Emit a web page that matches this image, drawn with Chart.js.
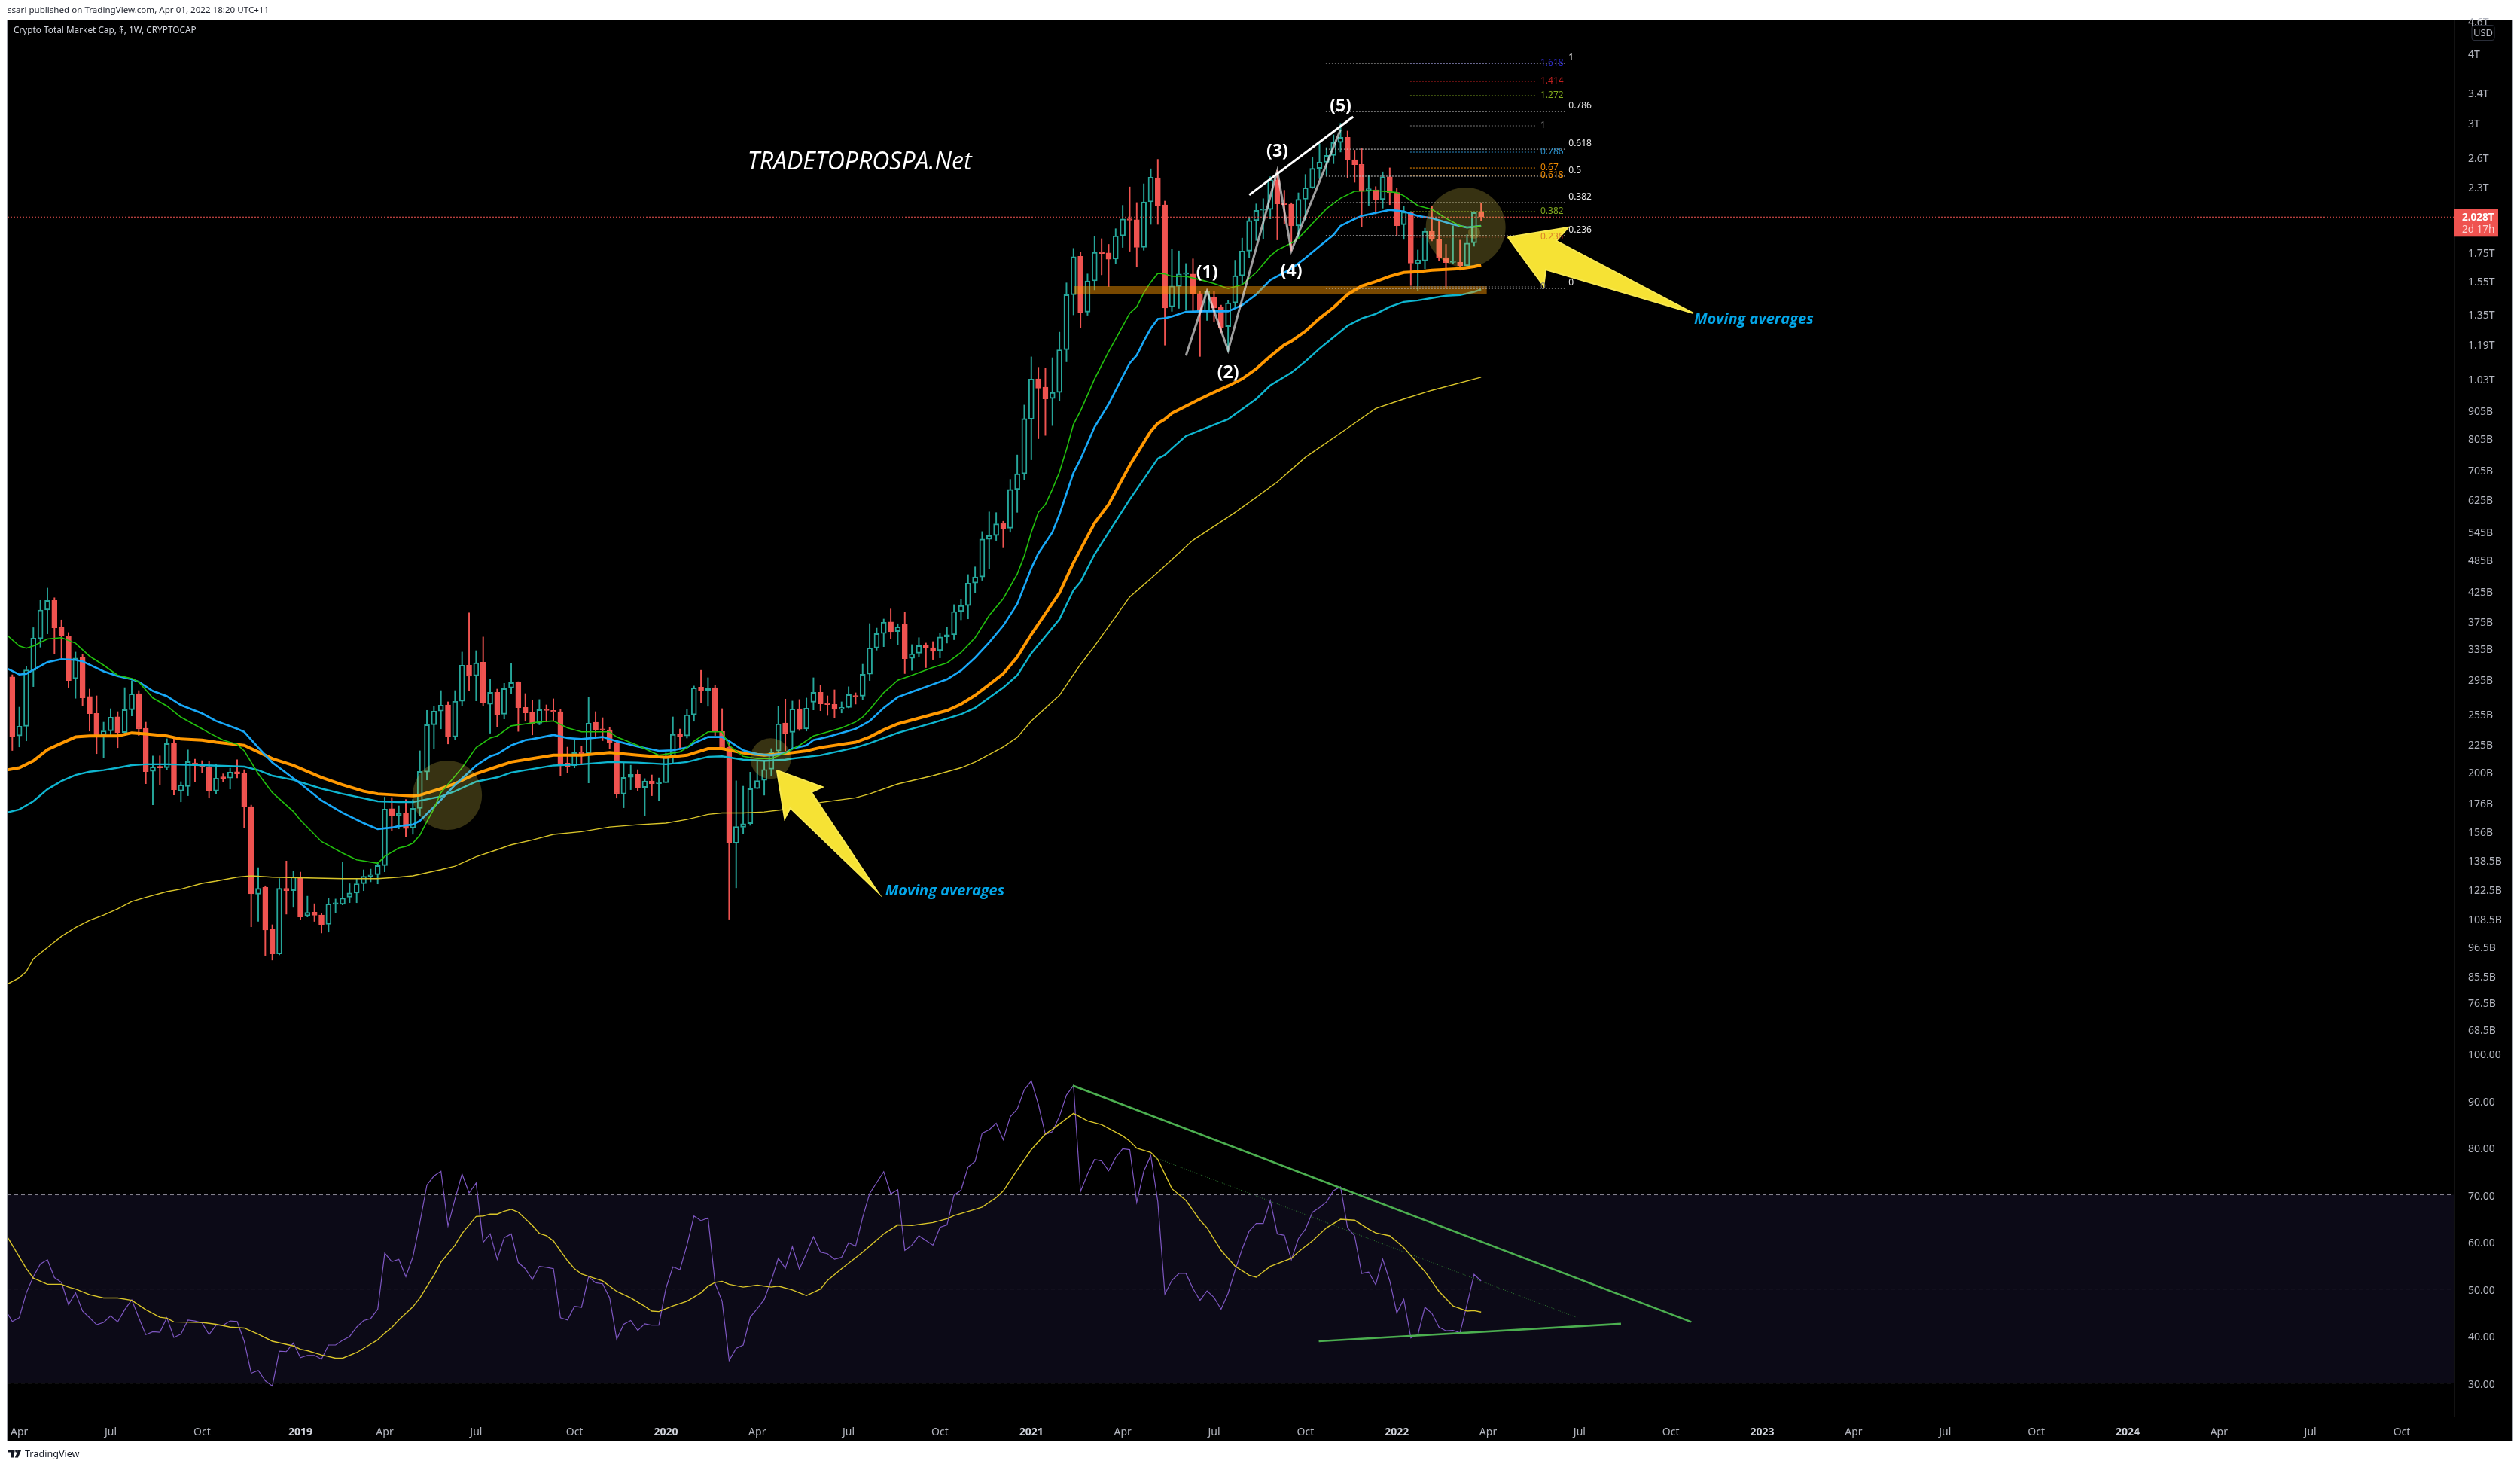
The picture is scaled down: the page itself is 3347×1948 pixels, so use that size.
<!DOCTYPE html>
<html><head><meta charset="utf-8">
<style>html,body{margin:0;padding:0;background:#fff}canvas{display:block}</style>
<script src="https://cdn.jsdelivr.net/npm/chart.js@4"></script>
</head><body><canvas id="c" width="3347" height="1948"></canvas>
<script>
// ---- Weekly candles, market cap in billions USD (index = week number) ----
const opens=[298,233,242.6,306.3,349.5,394,410,366.3,353.8,295.8,323.4,274.6,256,234,238,252.3,236.3,260,278,240.6,201,204.8,204.1,226,185.2,188.7,208,206.8,205,185.2,195.6,195.4,200.6,199.3,173.5,120.4,123.9,103.9,93.9,123.4,122.2,129.5,110,111.7,110.4,106.2,115.4,115.4,118.9,121,125.8,129.7,130.7,135.7,172,167,168.7,158.8,172.3,200.4,244.1,258.4,265.2,232.2,269.2,313,299.4,316.9,266,279.5,255,284.8,291.1,262.4,256.9,245.7,260,259.2,257.8,208,205.7,217.6,216.7,246.7,239.8,239,226.7,182.8,196,198.5,187.9,193,190.9,191.7,213.7,234.5,233,254.4,285.7,281.3,285,237.3,222.4,149,159.2,161.6,187,193.6,202.8,218.8,245.9,236.5,261.1,240,268.3,279.5,267.5,265.8,260.3,262.4,275.4,275.1,301.4,336.4,357.1,374.8,360,371.2,322,329,340,336.7,332.5,352.1,355.4,391.5,401.3,440.8,452.1,529,537.4,566.7,554.2,651.3,695.5,873,1033,998,952,976,1166,1467,1722,1365,1554,1752,1747,1703,1875,2012,2006,1787,2161,2389,2134,1395,1518,1598,1600,1474,1367,1449,1391,1285,1418,1588,1760,1999,2086,2093,2368,2146,2141,1955,2185,2292,2484,2550,2623,2768,2829,2577,2527,2268,2272,2182,2399,2247,1965,2069,1670,1690,1911,1851,1712,1679,1679,1656,1822,2069];
const highs=[300.7,262.7,311.2,366,410,431.6,414.5,377.9,358.6,330.5,328,283.3,275.4,246.7,261,257.8,285,293.5,281.5,246.7,214.4,214.4,230.3,230.5,192.5,219.8,211.5,210.2,209.6,206.9,198.9,203.7,210.9,202.4,174.6,134.5,124.7,106,128.6,138.3,132.4,132,119.4,115.7,111.1,118.2,118,137.5,125.8,128.4,133.3,133.7,137.5,180.5,180.2,174.1,178.7,178.7,219,259.2,263.5,281.5,268.6,281.5,330.5,389.3,332.5,352,295.1,283.3,290.2,315.2,292.2,278,270.3,271.2,265.2,272,260.3,222.4,230,223.1,273.7,257.8,251.4,241.3,228.1,208.1,206.2,202.4,195,198,195.5,216.9,252.2,239.8,260,287,306.3,297,287.5,261.1,228.6,193.2,188.9,200.3,210.2,209.7,221,263.9,271.7,269.5,271.2,272.9,297,287.8,275.4,282.4,268.6,286.1,278.9,314.2,372.3,365.3,379.4,395.6,372,391,341,351,343.2,345.3,357.5,366.3,402.8,411.8,456.7,471.6,546.3,593,591.3,570.3,679,752,926,1132,1084,1081,1128,1255,1541,1780,1752,1600,1872,1853,1810,1932,2130,2300,2155,2330,2480,2580,2168,1772,1761,1671,1704,1489,1492,1489,1405,1435,1694,1858,2029,2143,2190,2400,2464,2268,2153,2244,2422,2600,2753,2710,2858,2998,2904,2680,2698,2410,2303,2449,2490,2287,2120,2071,1768,1935,2120,1993,1810,1955,1842,1884,2071,2153];
const lows=[219.3,222.6,228.3,286.3,337.4,356.7,328.7,322.4,285.4,272.6,264.6,237.8,216.4,213,233.4,221.9,235,253.3,233.4,190.9,174.8,190.3,202.6,182.1,177,181.6,192.1,199.5,179.8,182.7,192.1,186.7,195.6,159.1,105.1,107.5,93.3,91.5,93.5,110.8,114,108.5,109.5,107.5,102.4,102.8,111.5,115.1,116.2,116.2,122.2,126.8,125.7,132.2,157.1,158.1,153.2,154.6,167.3,193.9,221.2,240,225.4,229.1,264.6,281.7,269.7,264,235.7,242.3,250.1,278.3,237.5,247.7,234.1,244.1,246.9,248.5,197.6,199.5,203.9,206.5,191.5,232.7,228.5,220.9,179.8,172.7,186.2,185.6,166.8,181.6,177.6,191.7,207.9,220.2,231,247.7,268,263.7,233.4,220.3,108.5,123.7,155.1,160.5,187,182,197.4,214.7,219,221.5,238.3,237.8,259.7,258.9,253.8,251,256.4,261.9,266.1,270.6,293.6,333.2,338.1,349.2,340.6,302.2,306.3,323.9,309.8,320.6,322.6,343.2,348,378.2,379.7,423,445.9,468,526.6,510.7,544.8,592,679,737,805,816,850,942,1109,1349,1279,1347,1497,1594,1518,1671,1787,1759,1646,1766,1967,1967,1189,1369,1386,1375,1369,1134,1318,1310,1254,1159,1391,1537,1710,1840,1855,2013,1844,1970,1762,1855,2004,2287,2380,2412,2534,2660,2386,2345,1945,2130,2055,2105,2136,1879,1848,1524,1489,1636,1836,1690,1506,1668,1625,1653,1796,1996];
const closes=[232.7,242.6,306.9,350.5,394,410,365.8,353.4,293.6,322.4,273,255.6,233.4,238,252,236.3,260,277.7,240,200.7,204.8,203.9,225.7,186.2,189.9,209.3,206.9,204.5,185,195.4,195.2,200.4,198.9,173.2,120.6,123.4,103.7,93.9,123.4,122.2,129.4,109.5,111.6,110.3,106.1,115.6,115.7,118.5,121,125.8,129.8,130.5,135.7,171.8,166.8,168.5,158.4,172.3,201,244.1,258.4,264.9,232,269.2,313,299,316,267.2,279.5,254,283.8,291.1,262.1,256.4,244.6,260,259,257.3,207.8,205,217.4,216.2,245.6,239.3,238.5,226.2,183.2,196,198.5,187.9,193,190.9,191.3,213.3,234.5,232,254.4,284.8,281.6,284.4,237,221.9,149,159.7,161.6,187,193.4,202.6,217.8,245,235.5,260.8,239.8,261.6,279.5,266.4,265.5,260.3,262.4,276.9,274,301.4,336.4,357.1,374.4,359.7,367.3,321.5,328.1,339.6,336,331.5,352.1,355.4,391.5,401.3,440.8,452.1,529.4,537.4,564.4,553.6,651.3,695.5,875,1032,994,950,976,1166,1467,1719,1363,1554,1750,1742,1701,1875,2012,2001,1787,2161,2395,2128,1388,1521,1600,1604,1471,1365,1489,1388,1279,1418,1588,1760,1999,2086,2093,2368,2143,2136,1955,2185,2292,2484,2550,2623,2768,2829,2580,2523,2258,2277,2184,2396,2244,1957,2071,1673,1696,1911,1848,1710,1678,1684,1656,1819,2066,2028];

// ---- Moving averages: week, value ----
const maGreenWeeks=[-1,1,2,3,4,5,7,9,11,13,15,17,18,20,22,24,27,28,30,32,33,35,37,40,41,44,47,49,52,53,55,56,57,58,59,60,61,64,66,68,69,71,73,75,77,79,81,85,86,89,92,95,96,97,99,101,102,104,106,108,110,112,114,118,120,121,122,124,126,128,131,133,135,137,139,141,143,144,145,146,147,148,149,150,151,152,154,156,158,159,160,161,162,163,164,165,167,169,171,173,175,176,177,179,180,182,183,185,187,189,191,194,197,198,200,202,204,206,207,209];
const maGreenValues=[357,339,336,339,344,349,351,343,325,313,300,296,292,273,264,252,240,236,229,225,219,199,184,170,164,150,143,139,137,141,146,147,149,154,163,172,184,204,222,231,233,243,245,247,248,241,237,237,232,224,215,218,222,228,237,237,224,214,212,212,217,224,233,241,247,252,260,279,294,300,310,316,330,351,385,413,458,494,545,592,612,652,700,770,855,904,1033,1157,1287,1358,1395,1479,1546,1604,1600,1584,1584,1562,1537,1505,1530,1570,1610,1725,1767,1820,1855,1975,2100,2195,2258,2265,2247,2217,2128,2094,2018,1955,1942,1955];
const maBlueWeeks=[-1,1,2,3,5,7,9,10,13,15,17,18,20,22,24,27,29,32,33,35,37,41,44,47,50,52,54,55,57,58,61,63,66,68,69,71,73,74,77,79,81,84,86,89,92,94,96,97,99,101,102,104,106,108,110,111,113,114,116,118,120,121,122,124,126,128,131,133,135,137,139,141,143,145,146,148,149,150,151,152,154,156,158,159,160,161,162,163,164,165,167,169,171,173,175,177,179,182,184,186,188,189,191,192,194,196,198,200,202,205,207,209];
const maBlueValues=[310,301,302,307,317,321,320,318,305,299,295,292,281,275,265,256,248,240,237,222,208.6,191,178,169,162,158,159,160,161,163.5,178.5,190,206,214,216,224,229,230,234,231,230,232,228,223,219,219.5,222,226,232,232,228,219.5,216,215,217,221,224,229,232,236,240,244,248,262,274,280,289,295,306,323,344,369,404,469,499,545,587,640,698,739,845,930,1043,1103,1140,1209,1275,1326,1330,1340,1366,1369,1369,1369,1405,1469,1560,1635,1710,1796,1883,1955,2012,2038,2064,2090,2077,2038,2018,1967,1942,1955];
const maOrangeWeeks=[-1,1,3,5,7,9,11,15,17,19,22,24,27,29,33,35,37,40,44,47,50,52,55,57,58,61,63,66,69,71,74,77,81,85,89,93,96,99,101,104,107,110,113,115,120,122,124,126,131,133,135,137,141,143,145,149,151,154,156,159,161,162,163,164,165,169,171,173,175,177,179,181,182,184,186,188,190,192,194,196,198,200,202,204,206,208,209];
const maOrangeValues=[202,204,210,220,226,232,233,233,236,235,233,230,229,227,224,218,212,206,196,190,185,183,182,181.5,182,187,191,199,205,209,212,215,215,217.5,215,213,215,221,221,217,215,216.5,219,222,227,232,239,245,255,259,266,276,302,324,356,423,480,566,612,720,792,830,858,873,895,950,977,1003,1033,1077,1135,1190,1209,1260,1329,1391,1469,1521,1550,1584,1610,1615,1625,1630,1635,1650,1660];
const maCyanWeeks=[-1,1,3,5,7,9,11,13,15,17,19,22,27,33,35,37,40,44,47,52,55,57,61,63,66,69,71,74,77,81,85,89,93,96,99,101,104,107,110,111,115,120,122,126,131,135,137,141,143,145,149,151,152,154,159,161,163,164,165,167,173,177,179,182,184,186,188,190,192,194,196,198,200,202,204,206,208,209];
const maCyanValues=[169,171.5,177.4,186.5,193,198,200.7,202,204,206.3,207,207,206.3,205,202,197.4,194,187,183,177.4,176.8,176.8,181,185,192.5,196,200,203,206,207,209,208.5,207,209,213.6,214,211,210,211,212,215,222,226,236,246,255,262,285,300,329,379,428,443,497,625,680,741,752,773,814,873,950,1005,1060,1111,1172,1229,1289,1329,1354,1395,1424,1433,1447,1461,1465,1485,1500];
const maYellowWeeks=[-1,1,2,3,5,7,9,11,13,15,17,19,22,24,27,29,32,34,37,42,47,52,55,57,61,63,66,69,71,74,77,81,85,89,93,96,99,101,104,107,110,115,120,122,126,131,135,137,141,143,145,149,151,152,154,159,163,168,174,180,184,189,194,198,202,209];
const maYellowValues=[82.4,85,87.2,92,96.4,101,104.8,108,110.4,113.3,116.8,118.8,121.7,123,126,127.2,129.3,130,129.3,128.9,128.5,128.5,129.3,130,133.4,135.4,140.8,145,148,151,154.5,156.3,159.4,160.9,162,164.5,168,169,169,169.7,171.5,176.5,180,183,190.7,197.4,204,209,222.5,231.7,248,276,301,314,339,416,461,527,592,672,745,824,913,950,985,1040];

// ---- RSI pane (first value is week -1) ----
const rsiValues=[45.6,43.1,43.9,49.2,52.6,55.3,56.2,52.4,51.4,46.7,49.2,45.3,43.9,42.4,42.9,44.3,43,45.6,47.7,43.9,40.3,40.9,40.8,43.9,39.7,40.4,43.4,43.2,42.8,40.3,42.3,42.3,43.2,43.1,38.9,32.1,32.7,30.5,29.4,36.8,36.7,38.5,35.4,35.9,35.9,35.1,38.1,38.1,39.1,39.9,41.9,43.3,43.7,45.7,57.6,55.8,56.3,52.6,56.8,64.1,72.1,74,75,63.4,69.1,74.4,70.4,72.5,59.9,61.7,56.3,60.9,61.7,55.6,54.3,52,54.8,54.6,54.3,43.9,43.4,46.3,46.1,52.6,51.3,51.1,48.1,39.3,42.5,43.3,41.2,42.6,42.3,42.3,50.1,54.7,54.1,59.3,65.5,64.5,65.1,51.2,47.4,34.8,37.4,38.1,44,45.8,47.8,51.8,56.5,54.4,59,54.2,57.6,61.1,57.8,57.5,56.3,56.7,59.8,59.1,65.2,70.3,72.6,74.9,70.2,71.1,58.2,59.3,61.3,60.3,59.3,63.1,63.6,69.9,71,75.9,77.1,83.1,83.8,85.2,81.7,86.6,88.2,92.3,94.2,89.2,82.8,83.4,86.7,91.2,93.2,70.7,74.4,77.5,77.2,75.1,77.9,79.8,79.6,68.4,75,78.3,68.5,48.9,51.8,53.3,53.3,50.1,47.6,49.6,48.2,45.7,49.1,54,58.5,62.3,63.9,63.9,68.8,61.7,61.4,56.2,60.7,62.7,66.3,67.3,68.5,70.9,71.7,63,61.3,53.3,53.6,50.9,56.3,51.7,44.9,47.8,39.6,40.3,46.1,44.8,41.9,41.1,41.2,40.7,46.7,53.1,51.7];
const rsiMaWeeks=[-1,2,3,5,7,8,9,11,13,15,17,19,21,22,23,27,29,31,33,35,37,40,41,42,44,46,47,49,51,52,53,54,55,57,58,60,61,63,64,66,67,68,69,70,71,72,74,75,76,77,79,80,81,83,84,86,88,90,91,92,94,96,98,99,100,101,102,104,106,108,109,111,113,115,116,118,121,124,126,128,131,133,134,137,138,140,141,143,145,147,148,151,153,155,158,159,160,162,163,165,167,169,170,172,174,176,177,179,182,183,185,187,189,191,193,194,196,198,199,201,203,205,207,208,209];
const rsiMaValues=[61.8,54.3,52.3,51,51,50.4,50,48.8,48.1,48.1,47.6,45.6,44,43.8,43,42.9,42.5,41.9,41.7,40.4,38.9,37.9,37.2,36.9,36,35.3,35.3,36.5,38.3,39.2,40.6,41.8,43.4,46.2,48.1,52.9,55.7,59.3,61.8,65.4,65.5,65.9,65.9,66.5,66.9,66.3,63.5,61.8,61.3,60.2,56,54.3,53.2,52.2,51.7,49.5,48.1,46.3,45.3,45.2,46.4,47.4,49.2,50.6,51.4,51.6,51,50.4,50.8,50.4,50.6,49.8,48.6,50,51.8,54.3,57.8,61.7,63.6,63.5,64.1,64.9,65.6,66.9,67.4,69.4,70.8,75.3,79.6,82.9,83.9,87.3,85.7,84.9,82.5,81.4,79.9,79,77.5,71.3,68.8,64.6,63,58.2,54.8,52.9,52.5,54.8,56.5,57.9,60.2,63,64.8,64.6,62.7,61.9,61.3,58.8,57.1,53.7,49.5,46.4,45.3,45.4,45.1];
const rsiLevels=[70,50,30];
const rsiBandTop=70, rsiBandBottom=30;
const rsiTrendUpperWeeks=[150.9,238.9], rsiTrendUpperValues=[93.2,43];
const rsiTrendLowerWeeks=[185.9,228.9], rsiTrendLowerValues=[38.9,42.6];
const rsiTrendDottedWeeks=[162.8,222.7], rsiTrendDottedValues=[77.8,43.9];

// ---- Axes ----
const weekMin=-0.675, weekMax=347.5;
const timeTickWeeks=[1,14,27,41,53,66,80,93,106,119,132,145,158,171,184,197,210,223,236,249,262,275,288,301,314,327,340];
const timeTickLabels=['Apr','Jul','Oct','2019','Apr','Jul','Oct','2020','Apr','Jul','Oct','2021','Apr','Jul','Oct','2022','Apr','Jul','Oct','2023','Apr','Jul','Oct','2024','Apr','Jul','Oct'];
const priceMin=63.73, priceMax=4607;
const priceTickValues=[4580,4000,3400,3000,2600,2300,1750,1550,1350,1190,1030,905,805,705,625,545,485,425,375,335,295,255,225,200,176,156,138.5,122.5,108.5,96.5,85.5,76.5,68.5];
const priceTickLabels=['4.6T','4T','3.4T','3T','2.6T','2.3T','1.75T','1.55T','1.35T','1.19T','1.03T','905B','805B','705B','625B','545B','485B','425B','375B','335B','295B','255B','225B','200B','176B','156B','138.5B','122.5B','108.5B','96.5B','85.5B','76.5B','68.5B'];
const rsiMin=22.9, rsiMax=101.44;
const rsiTickValues=[100,90,80,70,60,50,40,30];
const rsiTickLabels=['100.00','90.00','80.00','70.00','60.00','50.00','40.00','30.00'];

// ---- Drawings on the price pane ----
const fibWhiteValues=[3852,3150,2692,2405,2154,1877,1506];
const fibWhiteLabels=['1','0.786','0.618','0.5','0.382','0.236','0'];
const fibWhiteWeeks=[186.9,220.9];
const fibColorValues=[3852,3572,3365,2968,2659,2489,2412,2075,1865,1516];
const fibColorLabels=['1.618','1.414','1.272','1','0.786','0.67','0.618','0.382','0.236','0'];
const fibColorColors=['#2a28c4','#c22020','#7fa81e','#787878','#2a8fc9','#f08a00','#f08a00','#7fa81e','#c2202080','#787878'];
const fibColorWeeks=[198.9,216.8];
const waveWeeks=[167,170,173,180,182,189], waveValues=[1138,1489,1163,2457,1762,2922];
const channelWeeks=[176,190.8], channelValues=[2224,3082];
const waveLabels=['(1)','(2)','(3)','(4)','(5)'];
const waveLabelWeeks=[170,173,180,182,189], waveLabelValues=[1604,1057,2667,1615,3211];
const supportWeeks=[151.1,209.8], supportValues=[1497,1497];
const circleWeeks=[61.9,107.9,206.8,208], circleValues=[182,212,1942,1900], circleRadii=[46,27,53,8];
const arrowLeftWeeks=[108.8,115.3,113.7,123.2,110.7,109.9,108.8], arrowLeftValues=[201.8,188.3,184.2,121.3,172.5,165,201.8];
const arrowRightWeeks=[212.8,221.4,219.7,239.2,218.2,217.9,212.8], arrowRightValues=[1865,1943,1836,1358,1629,1521,1865];
const noteText=['Moving averages','Moving averages'], noteWeeks=[124.2,239.3], noteValues=[122,1324];
const brandText='TRADETOPROSPA.Net', brandWeek=104.6, brandValue=2545;
const lastPrice=2028;

const TEAL='#26a69a', RED='#ef5350', AXIS='#b2b5be';
const pts=(xs,ys)=>xs.map((x,i)=>({x,y:ys[i]}));
const weeks=closes.map((_,i)=>i);
const bodyTop=closes.map((c,i)=>Math.max(c,opens[i]));
const bodyBot=closes.map((c,i)=>Math.min(c,opens[i]));
const isUp=closes.map((c,i)=>c>=opens[i]);
const candleColors=isUp.map(u=>u?TEAL:RED);

function lineDs(xs,ys,color,width,order,extra){
  return Object.assign({type:'line',yAxisID:'y',data:pts(xs,ys),borderColor:color,borderWidth:width,pointRadius:0,tension:0,fill:false,order},extra||{});
}
const datasets=[];
// RSI band + levels
datasets.push({type:'line',yAxisID:'rsi',data:[{x:weekMin,y:rsiBandTop},{x:weekMax,y:rsiBandTop}],borderColor:'rgba(0,0,0,0)',borderWidth:0,pointRadius:0,fill:{value:rsiBandBottom},backgroundColor:'#0c0a17',order:90});
rsiLevels.forEach((v,i)=>datasets.push({type:'line',yAxisID:'rsi',data:[{x:weekMin,y:v},{x:weekMax,y:v}],borderColor:i===1?'#5b5566':'#8a8794',borderWidth:1,borderDash:[5,4],pointRadius:0,order:80}));
datasets.push(lineDs(rsiValues.map((_,i)=>i-1),rsiValues,'#7e57c2',1.2,30,{yAxisID:'rsi'}));
datasets.push(lineDs(rsiMaWeeks,rsiMaValues,'#d9c52a',1.4,29,{yAxisID:'rsi'}));
datasets.push(lineDs(rsiTrendUpperWeeks,rsiTrendUpperValues,'#4caf50',2.6,20,{yAxisID:'rsi'}));
datasets.push(lineDs(rsiTrendLowerWeeks,rsiTrendLowerValues,'#4caf50',2.6,20,{yAxisID:'rsi'}));
datasets.push(lineDs(rsiTrendDottedWeeks,rsiTrendDottedValues,'#2f7d32',1,20,{yAxisID:'rsi',borderDash:[1,2]}));
// Candles
const candleBase={type:'bar',yAxisID:'y',grouped:false,order:60,borderSkipped:false};
datasets.push(Object.assign({},candleBase,{data:weeks.map(i=>({x:i,y:[bodyTop[i],highs[i]]})),backgroundColor:candleColors,barThickness:1.3,borderWidth:0}));
datasets.push(Object.assign({},candleBase,{data:weeks.map(i=>({x:i,y:[lows[i],bodyBot[i]]})),backgroundColor:candleColors,barThickness:1.3,borderWidth:0}));
datasets.push(Object.assign({},candleBase,{data:weeks.map(i=>({x:i,y:[bodyBot[i],bodyTop[i]]})),backgroundColor:isUp.map(u=>u?'rgba(0,0,0,0)':RED),borderColor:candleColors,borderWidth:1.3,barThickness:7,minBarLength:2}));
// Moving averages
datasets.push(lineDs(maYellowWeeks,maYellowValues,'#d9c52a',1.4,50));
datasets.push(lineDs(maCyanWeeks,maCyanValues,'#0fb5cf',2.4,49));
datasets.push(lineDs(maOrangeWeeks,maOrangeValues,'#ff9800',4,48));
datasets.push(lineDs(maBlueWeeks,maBlueValues,'#18a8f7',2.6,47));
datasets.push(lineDs(maGreenWeeks,maGreenValues,'#22c00e',1.6,46));
// Support zone
datasets.push(lineDs(supportWeeks,supportValues,'rgba(255,152,0,0.47)',10,40,{borderCapStyle:'butt'}));
// Last price line
datasets.push(lineDs([weekMin,weekMax],[lastPrice,lastPrice],RED,1,41,{borderDash:[2,2]}));
// Fib levels
fibWhiteValues.forEach(v=>datasets.push(lineDs(fibWhiteWeeks,[v,v],'#c8c8c8',1,38,{borderDash:[2,2]})));
fibColorValues.forEach((v,i)=>datasets.push(lineDs(fibColorWeeks,[v,v],fibColorColors[i],1,39,{borderDash:[2,2]})));
// Highlight circles
circleWeeks.forEach((w,i)=>datasets.push({type:'line',yAxisID:'y',data:[{x:w,y:circleValues[i]}],pointRadius:circleRadii[i],pointBackgroundColor:'rgba(250,228,80,0.22)',pointBorderWidth:0,showLine:false,order:35}));
// Wave count + channel
datasets.push(lineDs(waveWeeks,waveValues,'rgba(235,235,235,0.68)',3,15));
datasets.push(lineDs(channelWeeks,channelValues,'#ffffff',3,14));
// Arrows
const arrowStyle={backgroundColor:'#f6e234',fill:'shape'};
datasets.push(lineDs(arrowLeftWeeks,arrowLeftValues,'#f8e84e',2,6,arrowStyle));
datasets.push(lineDs(arrowRightWeeks,arrowRightValues,'#f8e84e',2,5,arrowStyle));

const txt=(ctx,s,x,y,font,color,align,base)=>{ctx.font=font;ctx.fillStyle=color;ctx.textAlign=align||'left';ctx.textBaseline=base||'middle';ctx.fillText(s,x,y);};
const paint={
  id:'paint',
  beforeDraw(ch){
    const c=ch.ctx,a=ch.chartArea;
    c.save();
    c.fillStyle='#000';c.fillRect(a.left,a.top,3337-a.left,1913-a.top);
    c.fillStyle='#131313';c.fillRect(a.right,a.top,1,a.bottom-a.top);c.fillRect(a.left,a.bottom,3337-a.left,1);
    c.strokeStyle='#a5a8b0';c.lineWidth=1;c.strokeRect(a.left-.5,a.top-.5,3337-a.left+1,1913-a.top+1);
    txt(c,'ssari published on TradingView.com, Apr 01, 2022 18:20 UTC+11',10,14,'11.6px "Noto Sans"','#1e222d');
    txt(c,'TradingView',33,1931,'12.6px "Noto Sans"','#131722');
    // logo
    c.fillStyle='#131722';c.fillRect(10.5,1925,9,3.5);c.fillRect(14.5,1925,4.5,10.5);
    c.beginPath();c.arc(22,1926.8,1.9,0,7);c.fill();
    c.beginPath();c.moveTo(24.5,1925);c.lineTo(28.5,1925);c.lineTo(24,1935.5);c.lineTo(19.8,1935.5);c.closePath();c.fill();
    c.restore();
  },
  afterDraw(ch){
    const c=ch.ctx,a=ch.chartArea,X=ch.scales.x,Y=ch.scales.y;
    c.save();
    txt(c,'Crypto Total Market Cap, $, 1W, CRYPTOCAP',18,41,'11.8px "Noto Sans"','#d1d4dc');
    txt(c,brandText,X.getPixelForValue(brandWeek),Y.getPixelForValue(brandValue),'italic 32px "Open Sans"','#ffffff');
    noteText.forEach((s,i)=>txt(c,s,X.getPixelForValue(noteWeeks[i]),Y.getPixelForValue(noteValues[i]),'italic bold 20px "Open Sans"','#04a6e8'));
    waveLabels.forEach((s,i)=>txt(c,s,X.getPixelForValue(waveLabelWeeks[i]),Y.getPixelForValue(waveLabelValues[i]),'bold 23px "Open Sans"','#ffffff','center'));
    fibWhiteLabels.forEach((s,i)=>txt(c,s,X.getPixelForValue(fibWhiteWeeks[1])+5,Y.getPixelForValue(fibWhiteValues[i])-7,'12px "Noto Sans"','#e8e8e8'));
    fibColorLabels.forEach((s,i)=>txt(c,s,X.getPixelForValue(fibColorWeeks[1])+6,Y.getPixelForValue(fibColorValues[i]),'12px "Noto Sans"',fibColorColors[i]));
    // last price tag
    const py=Y.getPixelForValue(lastPrice);
    c.fillStyle=RED;c.fillRect(a.right,py-11,58,37);
    txt(c,'2.028T',3270,py+1,'bold 13.5px "Noto Sans"','#ffffff');
    txt(c,'2d 17h',3270,py+17,'13.5px "Noto Sans"','#fbd5d4');
    // USD box
    c.strokeStyle='#2a2e39';c.lineWidth=1;c.beginPath();c.roundRect(3283,33.5,30,20,3);c.stroke();
    txt(c,'USD',3298,44,'13px "Noto Sans"',AXIS,'center');
    c.restore();
  }
};
const noPad=s=>{s.paddingLeft=0;s.paddingRight=0;s.paddingTop=0;s.paddingBottom=0;};

new Chart(document.getElementById('c'),{
  type:'line',
  data:{datasets},
  plugins:[paint],
  options:{
    responsive:false,animation:false,devicePixelRatio:1,
    layout:{padding:{left:10,top:27,right:10,bottom:35},autoPadding:false},
    plugins:{legend:{display:false},tooltip:{enabled:false},title:{display:false}},
    scales:{
      x:{type:'linear',position:'bottom',min:weekMin,max:weekMax,offset:false,bounds:'data',
        grid:{display:false},border:{display:false},
        afterFit(s){s.height=32;noPad(s);},
        afterBuildTicks(s){s.ticks=timeTickWeeks.map(v=>({value:v}));},
        ticks:{autoSkip:false,maxRotation:0,padding:5,
          callback:(v,i)=>timeTickLabels[i],
          font:c=>({family:'Noto Sans',size:14,weight:/^\d/.test(timeTickLabels[c.index]||'')?'bold':'normal'}),
          color:c=>/^\d/.test(timeTickLabels[c.index]||'')?'#d1d4dc':AXIS}},
      y:{type:'logarithmic',position:'right',stack:'panes',stackWeight:1363,min:priceMin,max:priceMax,bounds:'data',
        grid:{display:false},border:{display:false},
        afterFit(s){s.width=77;noPad(s);},
        afterBuildTicks(s){s.ticks=priceTickValues.map(v=>({value:v}));},
        ticks:{autoSkip:false,padding:10,labelOffset:1.5,callback:(v,i)=>priceTickLabels[i],font:{family:'Noto Sans',size:14},color:AXIS}},
      rsi:{type:'linear',position:'right',stack:'panes',stackWeight:491,min:rsiMin,max:rsiMax,bounds:'data',
        grid:{display:false},border:{display:false},
        afterFit(s){s.width=77;noPad(s);},
        afterBuildTicks(s){s.ticks=rsiTickValues.map(v=>({value:v}));},
        ticks:{autoSkip:false,padding:10,labelOffset:2,callback:(v,i)=>rsiTickLabels[i],font:{family:'Noto Sans',size:14},color:AXIS}}
    }
  }
});
</script></body></html>
